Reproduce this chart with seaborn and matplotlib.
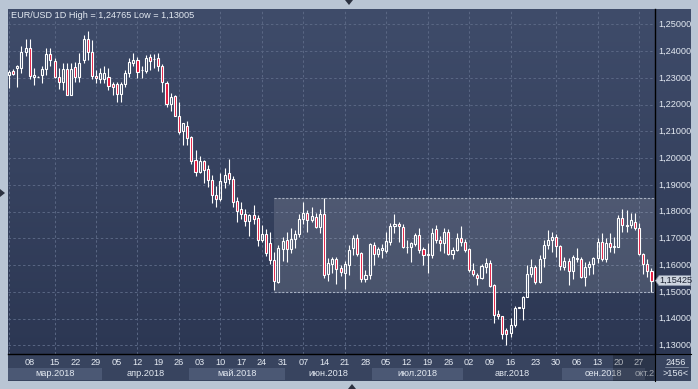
import numpy as np
import pandas as pd
import matplotlib
matplotlib.use("Agg")
import matplotlib.pyplot as plt
import matplotlib.transforms as mtransforms
from matplotlib.patches import Rectangle, Polygon
from matplotlib.colors import LinearSegmentedColormap
import seaborn as sns

sns.set_style("dark")
plt.rcParams["font.family"] = ["Liberation Sans", "DejaVu Sans"]

# ---------------- data (EUR/USD daily) ----------------
session_start = "2018-03-01"
session_end = "2018-10-02"
extra_sessions = ["2018-03-11", "2018-08-19"]

opens = [1.2312, 1.2327, 1.2336, 1.2336, 1.2399, 1.2411, 1.2305, 1.2305, 1.2311, 1.2333,
         1.2390, 1.2365, 1.2303, 1.2286, 1.2333, 1.2238, 1.2340, 1.2303, 1.2368, 1.2445,
         1.2399, 1.2308, 1.2295, 1.2295, 1.2303, 1.2276, 1.2276, 1.2240, 1.2278, 1.2320,
         1.2355, 1.2368, 1.2328, 1.2326, 1.2380, 1.2371, 1.2374, 1.2345, 1.2280, 1.2201,
         1.2233, 1.2159, 1.2101, 1.2120, 1.2080, 1.1993, 1.1949, 1.1989, 1.1958, 1.1920,
         1.1861, 1.1846, 1.1911, 1.1946, 1.1924, 1.1839, 1.1809, 1.1793, 1.1765, 1.1789,
         1.1777, 1.1695, 1.1718, 1.1684, 1.1621, 1.1538, 1.1659, 1.1694, 1.1659, 1.1697,
         1.1717, 1.1771, 1.1796, 1.1769, 1.1781, 1.1744, 1.1791, 1.1569, 1.1605, 1.1622,
         1.1588, 1.1572, 1.1601, 1.1665, 1.1700, 1.1646, 1.1548, 1.1563, 1.1675, 1.1642,
         1.1657, 1.1654, 1.1688, 1.1746, 1.1756, 1.1744, 1.1669, 1.1669, 1.1679, 1.1713,
         1.1659, 1.1640, 1.1638, 1.1734, 1.1694, 1.1684, 1.1725, 1.1642, 1.1657, 1.1703,
         1.1688, 1.1659, 1.1584, 1.1563, 1.1551, 1.1594, 1.1607, 1.1526, 1.1417, 1.1410,
         1.1357, 1.1345, 1.1376, 1.1442, 1.1439, 1.1480, 1.1569, 1.1594, 1.1538, 1.1626,
         1.1675, 1.1694, 1.1707, 1.1672, 1.1594, 1.1617, 1.1579, 1.1622, 1.1622, 1.1555,
         1.1592, 1.1604, 1.1626, 1.1688, 1.1622, 1.1684, 1.1668, 1.1669, 1.1775, 1.1745,
         1.1750, 1.1763, 1.1738, 1.1642, 1.1604, 1.1579]
highs = [1.2330, 1.2332, 1.2349, 1.2420, 1.2445, 1.2445, 1.2336, 1.2307, 1.2343, 1.2411,
         1.2411, 1.2374, 1.2336, 1.2355, 1.2355, 1.2355, 1.2358, 1.2393, 1.2461, 1.24765,
         1.2443, 1.2330, 1.2336, 1.2343, 1.2336, 1.2285, 1.2286, 1.2286, 1.2330, 1.2374,
         1.2393, 1.2380, 1.2346, 1.2386, 1.2390, 1.2390, 1.2392, 1.2351, 1.2289, 1.2243,
         1.2236, 1.2209, 1.2130, 1.2139, 1.2084, 1.2030, 1.2008, 1.1993, 1.1976, 1.1936,
         1.1895, 1.1943, 1.1964, 1.1996, 1.1933, 1.1855, 1.1836, 1.1811, 1.1792, 1.1826,
         1.1786, 1.1749, 1.1736, 1.1724, 1.1650, 1.1675, 1.1707, 1.1725, 1.1738, 1.1731,
         1.1791, 1.1837, 1.1806, 1.1819, 1.1796, 1.1812, 1.1850, 1.1626, 1.1629, 1.1632,
         1.1601, 1.1617, 1.1675, 1.1713, 1.1718, 1.1650, 1.1582, 1.1683, 1.1688, 1.1669,
         1.1679, 1.1725, 1.1759, 1.1791, 1.1760, 1.1756, 1.1694, 1.1688, 1.1721, 1.1741,
         1.1667, 1.1682, 1.1738, 1.1750, 1.1709, 1.1741, 1.1734, 1.1667, 1.1719, 1.1746,
         1.1697, 1.1663, 1.1607, 1.1572, 1.1604, 1.1626, 1.1619, 1.1530, 1.1432, 1.1410,
         1.1364, 1.1401, 1.1447, 1.1445, 1.1485, 1.1601, 1.1622, 1.1601, 1.1638, 1.1694,
         1.1731, 1.1725, 1.1717, 1.1676, 1.1632, 1.1626, 1.1638, 1.1663, 1.1632, 1.1613,
         1.1617, 1.1632, 1.1700, 1.1721, 1.1700, 1.1721, 1.1707, 1.1788, 1.1812, 1.1806,
         1.1794, 1.1794, 1.1759, 1.1644, 1.1622, 1.1588]
lows = [1.2261, 1.2311, 1.2268, 1.2320, 1.2383, 1.2295, 1.2274, 1.2303, 1.2280, 1.2311,
        1.2343, 1.2299, 1.2258, 1.2255, 1.2236, 1.2236, 1.2286, 1.2286, 1.2355, 1.2368,
        1.2295, 1.2280, 1.2283, 1.2280, 1.2255, 1.2235, 1.2211, 1.2211, 1.2268, 1.2305,
        1.2343, 1.2299, 1.2301, 1.2318, 1.2330, 1.2336, 1.2326, 1.2246, 1.2193, 1.2176,
        1.2159, 1.2089, 1.2051, 1.2051, 1.1980, 1.1934, 1.1943, 1.1908, 1.1893, 1.1833,
        1.1818, 1.1839, 1.1889, 1.1905, 1.1818, 1.1761, 1.1774, 1.1746, 1.1711, 1.1755,
        1.1671, 1.1686, 1.1636, 1.1605, 1.1508, 1.1535, 1.1617, 1.1613, 1.1647, 1.1663,
        1.1707, 1.1756, 1.1725, 1.1763, 1.1741, 1.1721, 1.1554, 1.1542, 1.1570, 1.1530,
        1.1560, 1.1510, 1.1563, 1.1639, 1.1633, 1.1537, 1.1537, 1.1550, 1.1601, 1.1632,
        1.1626, 1.1647, 1.1675, 1.1719, 1.1688, 1.1663, 1.1644, 1.1613, 1.1672, 1.1647,
        1.1601, 1.1572, 1.1626, 1.1682, 1.1654, 1.1647, 1.1638, 1.1622, 1.1654, 1.1672,
        1.1650, 1.1576, 1.1560, 1.1526, 1.1547, 1.1572, 1.1520, 1.1385, 1.1399, 1.1326,
        1.13005, 1.1333, 1.1370, 1.1440, 1.1395, 1.1480, 1.1555, 1.1530, 1.1535, 1.1594,
        1.1659, 1.1650, 1.1632, 1.1584, 1.1582, 1.1526, 1.1547, 1.1613, 1.1551, 1.1522,
        1.1563, 1.1569, 1.1609, 1.1617, 1.1613, 1.1650, 1.1647, 1.1667, 1.1725, 1.1725,
        1.1741, 1.1731, 1.1638, 1.1567, 1.1555, 1.1501]
closes = [1.2322, 1.2315, 1.2345, 1.2399, 1.2411, 1.2309, 1.2311, 1.2305, 1.2333, 1.2390,
          1.2368, 1.2303, 1.2286, 1.2333, 1.2238, 1.2333, 1.2303, 1.2355, 1.2445, 1.2399,
          1.2308, 1.2299, 1.2320, 1.2320, 1.2270, 1.2268, 1.2240, 1.2278, 1.2320, 1.2358,
          1.2368, 1.2324, 1.2330, 1.2376, 1.2364, 1.2372, 1.2343, 1.2286, 1.2201, 1.2230,
          1.2159, 1.2099, 1.2130, 1.2076, 1.1989, 1.1949, 1.1989, 1.1955, 1.1920, 1.1861,
          1.1849, 1.1914, 1.1939, 1.1924, 1.1836, 1.1802, 1.1790, 1.1764, 1.1789, 1.1774,
          1.1695, 1.1718, 1.1645, 1.1621, 1.1540, 1.1663, 1.1692, 1.1659, 1.1697, 1.1717,
          1.1771, 1.1796, 1.1769, 1.1784, 1.1744, 1.1790, 1.1563, 1.1607, 1.1622, 1.1586,
          1.1573, 1.1604, 1.1657, 1.1700, 1.1642, 1.1549, 1.1563, 1.1679, 1.1642, 1.1659,
          1.1663, 1.1692, 1.1746, 1.1756, 1.1746, 1.1669, 1.1670, 1.1684, 1.1713, 1.1657,
          1.1638, 1.1642, 1.1721, 1.1694, 1.1684, 1.1725, 1.1642, 1.1657, 1.1703, 1.1688,
          1.1657, 1.1582, 1.1567, 1.1551, 1.1597, 1.1607, 1.1522, 1.1414, 1.1411, 1.1343,
          1.1343, 1.1376, 1.1439, 1.1443, 1.1480, 1.1569, 1.1594, 1.1538, 1.1622, 1.1675,
          1.1694, 1.1707, 1.1672, 1.1597, 1.1617, 1.1579, 1.1629, 1.1628, 1.1555, 1.1592,
          1.1604, 1.1626, 1.1688, 1.1622, 1.1684, 1.1669, 1.1672, 1.1775, 1.1750, 1.1750,
          1.1769, 1.1738, 1.1642, 1.1604, 1.1579, 1.15425]

price_ticks = [1.13, 1.14, 1.15, 1.16, 1.17, 1.18, 1.19, 1.20, 1.21, 1.22, 1.23, 1.24, 1.25]
month_names = ["янв", "фев", "мар", "апр", "май", "июн", "июл", "авг", "сен", "окт", "ноя", "дек"]
range_high = 1.185
range_low = 1.150
range_start = 63.9
title = "EUR/USD 1D High = 1,24765 Low = 1,13005"
corner_top = "2456"
corner_bottom = ">156<"

# ---------------- derived ----------------
dates = pd.bdate_range(session_start, session_end).union(pd.to_datetime(extra_sessions))
o = np.array(opens); h = np.array(highs); l = np.array(lows); c = np.array(closes)
n = len(o)
x = np.arange(n)
thursdays = [i for i, d in enumerate(dates) if d.weekday() == 3]

W, H = 698, 389
BG_TOP, BG_BOT = "#3f4c6a", "#2c3753"
PANEL = "#38445f"
BAND = "#4b5874"
RED = "#e3143a"
TXT = "#e4eaf2"

fig = plt.figure(figsize=(W / 100, H / 100), dpi=100, facecolor="#b9c5d4")


def add_ax(x0, y0, x1, y1):
    return fig.add_axes([x0 / W, 1 - y1 / H, (x1 - x0) / W, (y1 - y0) / H])


cmap = LinearSegmentedColormap.from_list("bg", [BG_TOP, BG_BOT])
grad = np.linspace(0, 1, 256).reshape(-1, 1)

ymin, ymax = 1.12682, 1.25579
xmin, xmax = -0.24, n - 0.15

# main plot
ax = add_ax(8, 9, 655, 354)
ax.imshow(grad, cmap=cmap, extent=(0, 1, 0, 1), transform=ax.transAxes,
          aspect="auto", zorder=0)
ax.set_yticks(price_ticks)
ax.set_xticks(thursdays[::2])
ax.set_axisbelow(True)
ax.grid(True, color="#5a6784", ls=(0, (2.5, 2.5)), lw=0.7)
ax.tick_params(length=0, labelbottom=False, labelleft=False)
for s in ax.spines.values():
    s.set_visible(False)

# consolidation range
ax.add_patch(Rectangle((range_start, range_low), xmax - range_start, range_high - range_low,
                       facecolor="white", alpha=0.13, edgecolor="none", zorder=1))
ax.hlines([range_low, range_high], range_start, xmax, colors="#a7b0c2",
          linestyles=(0, (2, 1.5)), lw=0.8, zorder=1.5)

# candles
top = np.maximum(o, c)
bot = np.minimum(o, c)
up = c >= o
ax.vlines(x, top, h, color="white", lw=0.8, zorder=2)
ax.vlines(x, l, bot, color="white", lw=0.8, zorder=2)
ax.bar(x, top - bot, bottom=bot, width=0.5,
       color=np.where(up, "none", RED), edgecolor="white", linewidth=0.8, zorder=3)

ax.set_xlim(xmin, xmax)
ax.set_ylim(ymin, ymax)
ax.text(3 / 647, 1 - 6 / 345, title, transform=ax.transAxes, ha="left", va="center",
        fontsize=6.6, color=TXT, zorder=5)

# right price panel
axr = add_ax(655, 9, 691, 354)
axr.imshow(grad, cmap=cmap, extent=(0, 1, 0, 1), transform=axr.transAxes,
           aspect="auto", zorder=0)
axr.set_xlim(0, 1)
axr.set_ylim(ymin, ymax)
axr.set_xticks([]); axr.set_yticks([])
for k, s in axr.spines.items():
    s.set_visible(k == "left")
axr.spines["left"].set_color("black"); axr.spines["left"].set_linewidth(1.0)
bt = mtransforms.blended_transform_factory(axr.transAxes, axr.transData)
for p in price_ticks:
    axr.text(3 / 36, p, f"{p:.5f}".replace(".", ","), transform=bt, ha="left",
             va="center", fontsize=6.6, color=TXT)
last = closes[-1]
hh = 5.0 * 0.01 / 26.75
axr.add_patch(Polygon([(0.5 / 36, last), (4 / 36, last + hh), (35.5 / 36, last + hh),
                       (35.5 / 36, last - hh), (4 / 36, last - hh)], closed=True,
                      transform=bt, facecolor="#cdd4de", edgecolor="#8a95a8", lw=0.5, zorder=3))
axr.text(4.5 / 36, last, f"{last:.5f}".replace(".", ","), transform=bt, ha="left",
         va="center", fontsize=6.6, color="#1c2333", zorder=4)

# bottom date panel
axb = add_ax(8, 354, 655, 381)
axb.set_facecolor(PANEL)
axb.set_xlim(xmin, xmax)
axb.set_ylim(0, 1)
axb.set_xticks([]); axb.set_yticks([])
for k, s in axb.spines.items():
    s.set_visible(k == "top")
axb.spines["top"].set_color("black"); axb.spines["top"].set_linewidth(1.0)
months = pd.Series(np.arange(n), index=dates).groupby(dates.to_period("M"))
for j, (per, idx) in enumerate(months):
    a, b = idx.iloc[0] - 0.5, idx.iloc[-1] + 0.5
    if j % 2 == 0:
        axb.add_patch(Rectangle((a, 0.037), b - a, 0.445, facecolor=BAND,
                                edgecolor="none", zorder=1))
    label = f"{month_names[per.month - 1]}.{per.year}"
    if b > xmax - 0.5:
        # month only partly on screen: the label is cut at the panel's right edge
        axb.text(xmax - 0.1, 0.26, label[:5], ha="right", va="center",
                 fontsize=6.6, color="#c9d0dc", zorder=2)
    else:
        ctr = (max(a, xmin) + b) / 2
        axb.text(ctr, 0.26, label, ha="center", va="center", fontsize=6.6,
                 color=TXT, zorder=2)
for i in thursdays:
    if i - xmin < 1.5:
        continue
    axb.text(i, 0.685, dates[i].strftime("%d"), ha="center", va="center",
             fontsize=6.6, color=TXT, zorder=2)
axb.add_patch(Rectangle((145.7, 0), xmax - 145.7, 1, facecolor="black", alpha=0.22,
                        edgecolor="none", zorder=3))

# corner panel
axc = add_ax(655, 354, 691, 381)
axc.set_facecolor(PANEL)
axc.set_xlim(0, 1); axc.set_ylim(0, 1)
axc.set_xticks([]); axc.set_yticks([])
for k, s in axc.spines.items():
    s.set_visible(k in ("top", "left"))
    s.set_color("black")
axc.text(0.58, 0.69, corner_top, ha="center", va="center", fontsize=6.6, color=TXT)
axc.plot([0.28, 0.92], [0.52, 0.52], color="#8792a6", lw=0.6)
axc.text(0.58, 0.26, corner_bottom, ha="center", va="center", fontsize=6.6, color=TXT)

# frame decorations
def fig_poly(pts, color):
    fig.patches.append(Polygon([(px / W, 1 - py / H) for px, py in pts], closed=True,
                               transform=fig.transFigure, facecolor=color,
                               edgecolor="none", figure=fig))

fig_poly([(345, 0), (353, 0), (349, 5)], "#2b3140")
fig_poly([(0, 189), (0, 197), (5, 193)], "#2b3140")
fig_poly([(348, 389), (356, 389), (352, 384)], "#2b3140")

fig.savefig("out.png", dpi=100, facecolor=fig.get_facecolor())
